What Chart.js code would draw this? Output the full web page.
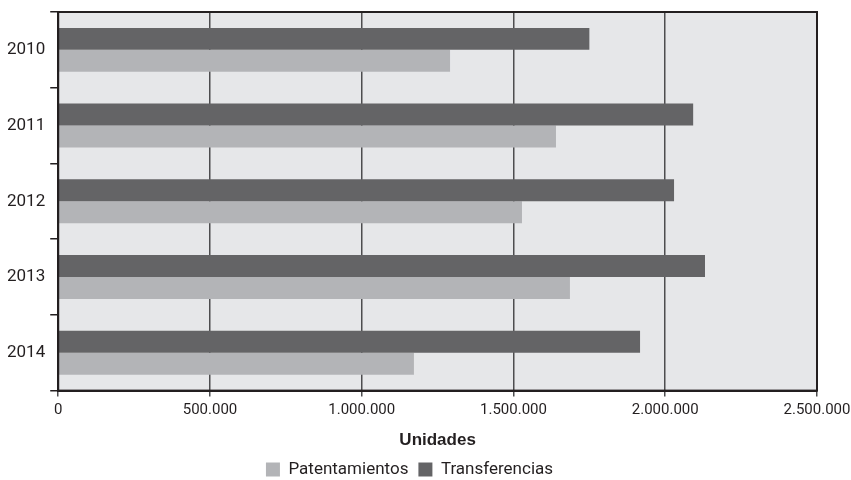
<!DOCTYPE html>
<html>
<head>
<meta charset="utf-8">
<script src="https://cdn.jsdelivr.net/npm/chart.js@4"></script>
<style>
  html, body { margin: 0; padding: 0; background: #fff; }
  #wrap { width: 851px; height: 480px; }
</style>
</head>
<body>
<div id="wrap"><canvas id="chart"></canvas></div>
<script>
// datos
const years = ['2010', '2011', '2012', '2013', '2014'];
const transferencias = [1750000, 2092000, 2029000, 2131000, 1917000];
const patentamientos = [1291000, 1640000, 1528000, 1686000, 1172000];
const xTicks = [0, 500000, 1000000, 1500000, 2000000, 2500000];

const FONT = "'Liberation Sans Narrow', 'Roboto', sans-serif";

// fondo gris y marco del área del gráfico
const plotFrame = {
    id: 'plotFrame',
    beforeDraw(chart) {
        const { ctx, chartArea: a } = chart;
        ctx.save();
        ctx.fillStyle = '#e6e7e9';
        ctx.fillRect(a.left, a.top, a.right - a.left, a.bottom - a.top);
        ctx.restore();
    },
    afterDraw(chart) {
        const { ctx, chartArea: a } = chart;
        ctx.save();
        ctx.strokeStyle = '#231f20';
        ctx.lineWidth = 2;
        ctx.strokeRect(a.left, a.top, a.right - a.left, a.bottom - a.top);
        ctx.restore();
    }
};

new Chart(document.getElementById('chart'), {
    type: 'bar',
    data: {
        labels: years,
        datasets: [
            { label: 'Transferencias', data: transferencias, backgroundColor: '#646466' },
            { label: 'Patentamientos', data: patentamientos, backgroundColor: '#b3b4b7' }
        ]
    },
    options: {
        indexAxis: 'y',
        responsive: true,
        maintainAspectRatio: false,
        animation: false,
        layout: { padding: { top: 12, right: 34, left: 2, bottom: -8 } },
        datasets: { bar: { categoryPercentage: 0.58, barPercentage: 1.0 } },
        scales: {
            x: {
                min: 0,
                max: 2500000,
                afterBuildTicks(axis) { axis.ticks = xTicks.map(v => ({ value: v })); },
                afterFit(scale) { scale.paddingRight = 0; scale.paddingLeft = 0; },
                grid: { color: '#4d4d4f', lineWidth: 1.5, tickLength: 6, drawTicks: true },
                border: { display: true, color: '#231f20', width: 2 },
                ticks: {
                    color: '#231f20',
                    font: { family: FONT, size: 15 },
                    padding: 5,
                    maxRotation: 0,
                    callback: v => v === 0 ? '0' : v.toLocaleString('de-DE')
                },
                title: {
                    display: true,
                    text: 'Unidades',
                    color: '#231f20',
                    font: { family: "'Liberation Sans', Arial, sans-serif", size: 17, weight: 'bold' },
                    padding: { top: 6, bottom: 0 }
                }
            },
            y: {
                afterFit(scale) { scale.paddingTop = 0; scale.paddingBottom = 0; },
                grid: { offset: true, drawOnChartArea: false, color: '#231f20', lineWidth: 1.5, tickLength: 8 },
                border: { display: true, color: '#231f20', width: 2 },
                ticks: {
                    color: '#231f20',
                    font: { family: FONT, size: 17 },
                    padding: 5
                }
            }
        },
        plugins: {
            legend: {
                position: 'bottom',
                reverse: true,
                labels: {
                    color: '#231f20',
                    font: { family: FONT, size: 17 },
                    boxWidth: 14,
                    boxHeight: 14,
                    padding: 10
                }
            },
            tooltip: { enabled: false }
        }
    },
    plugins: [plotFrame]
});
</script>
</body>
</html>
